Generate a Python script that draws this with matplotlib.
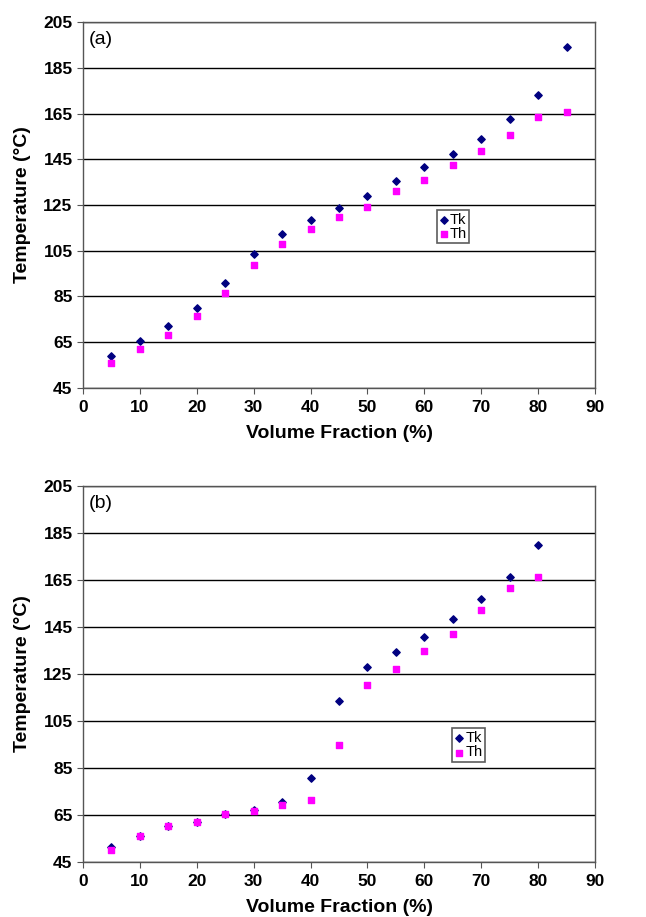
import matplotlib
matplotlib.use("Agg")
import matplotlib.pyplot as plt

plt.rcParams["font.family"] = ["Liberation Sans", "DejaVu Sans"]

# volume fraction (%)
vf_a = [5, 10, 15, 20, 25, 30, 35, 40, 45, 50, 55, 60, 65, 70, 75, 80, 85]
tk_a = [59.1, 65.7, 72.2, 79.9, 91.1, 103.6, 112.3, 118.5, 123.8, 129.1,
        135.3, 141.4, 147.5, 153.8, 162.4, 173.3, 194.2]
th_a = [56.1, 62.2, 68.0, 76.4, 86.7, 98.7, 107.8, 114.7, 119.6, 124.0,
        131.0, 136.1, 142.3, 148.6, 155.7, 163.5, 165.6]

vf_b = [5, 10, 15, 20, 25, 30, 35, 40, 45, 50, 55, 60, 65, 70, 75, 80]
tk_b = [51.4, 56.0, 60.2, 62.1, 65.6, 67.3, 70.7, 80.6, 113.3, 127.9,
        134.5, 140.8, 148.6, 157.0, 166.2, 179.7]
th_b = [50.2, 56.1, 60.2, 62.2, 65.4, 66.7, 69.1, 71.2, 94.6, 120.3,
        127.2, 134.6, 142.1, 152.4, 161.4, 166.3]

panels = [
    ("(a)", vf_a, tk_a, th_a, [0.1285, 0.5769, 0.7926, 0.3991], (0.691, 0.395)),
    ("(b)", vf_b, tk_b, th_b, [0.1285, 0.0600, 0.7926, 0.4100], (0.721, 0.267)),
]

fig = plt.figure(figsize=(6.46, 9.17), dpi=100)

for tag, vf, tk, th, rect, leg_pos in panels:
    ax = fig.add_axes(rect)
    ax.scatter(vf, tk, marker="D", s=14, color="#000080", label="Tk", zorder=3)
    ax.scatter(vf, th, marker="s", s=24, color="#FF00FF", label="Th", zorder=3)
    ax.set_xlim(0, 90)
    ax.set_ylim(45, 205)
    ax.set_xticks(range(0, 91, 10))
    ax.set_yticks(range(45, 206, 20))
    ax.grid(True, axis="y", color="black", linewidth=1.0)
    ax.set_axisbelow(True)
    for sp in ax.spines.values():
        sp.set_color("#555555")
        sp.set_linewidth(1.0)
    ax.tick_params(direction="out", length=4, color="#555555", labelsize=12.5)
    ax.tick_params(axis="x", pad=5)
    for lab in ax.get_xticklabels() + ax.get_yticklabels():
        lab.set_fontweight("bold")
    ax.set_xlabel("Volume Fraction (%)", fontsize=14, fontweight="bold", labelpad=7)
    ax.set_ylabel("Temperature (°C)", fontsize=14, fontweight="bold", labelpad=9)
    ax.text(0.012, 0.975, tag, transform=ax.transAxes, fontsize=14,
            ha="left", va="top")
    leg = ax.legend(loc="lower left", bbox_to_anchor=leg_pos, fontsize=10.5,
                    frameon=True, fancybox=False, handletextpad=0.05,
                    handlelength=0.7, borderpad=0.15, labelspacing=0.05,
                    borderaxespad=0)
    leg.get_frame().set_edgecolor("#333333")
    leg.get_frame().set_linewidth(1.2)

fig.savefig("out.png", dpi=100)
